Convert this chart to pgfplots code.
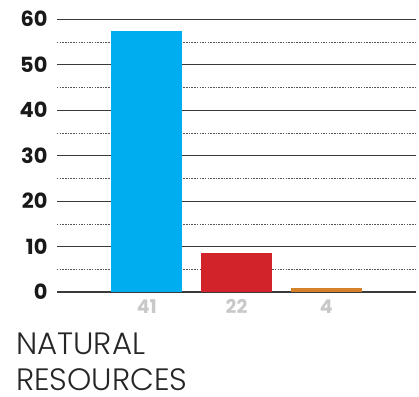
\documentclass[border=0pt]{standalone}
\usepackage{fontspec}
\setmainfont{Poppins}[BoldFont={Poppins Bold}]
\newfontfamily\lightfont{Poppins Light}
\usepackage{pgfplots}
\pgfplotsset{compat=1.18}
\definecolor{barblue}{HTML}{00AEEF}
\definecolor{barred}{HTML}{D2232A}
\definecolor{barorange}{HTML}{D4812A}
\definecolor{gridsolid}{HTML}{3A3A3A}
\definecolor{griddot}{HTML}{555555}
\definecolor{ticklight}{HTML}{C8C8C8}
\begin{document}
\begin{tikzpicture}[x=1bp,y=1bp]
\path[use as bounding box] (0,0) rectangle (419,397);
\begin{axis}[
  at={(57bp,105bp)}, anchor=south west,
  scale only axis, width=359bp, height=273bp,
  xmin=-1, xmax=3, ymin=0, ymax=60,
  axis x line=bottom, axis y line=left,
  y axis line style={draw=none},
  x axis line style={-, line width=1.2pt, color=gridsolid},
  xtick={0,1,2}, xticklabels={41,22,4},
  ytick={0,10,...,60},
  minor ytick={5,15,...,55},
  ymajorgrids, yminorgrids,
  major grid style={line width=0.6pt, color=gridsolid},
  minor grid style={line width=0.5pt, color=griddot, dash pattern=on 1.5pt off 1.2pt},
  major tick length=0pt, minor tick length=0pt,
  /pgf/number format/assume math mode=true,
  yticklabel style={font=\fontsize{21}{21}\selectfont\bfseries, text=black!90, anchor=east, xshift=-6bp},
  xticklabel style={font=\fontsize{19}{19}\selectfont\bfseries, text=ticklight, yshift=-4bp},
  clip=false,
]
\addplot[ybar, bar width=71bp, fill=barblue, draw=none] coordinates {(0,57.4)};
\addplot[ybar, bar width=71bp, fill=barred, draw=none] coordinates {(1,8.6)};
\addplot[ybar, bar width=71bp, fill=barorange, draw=none] coordinates {(2,0.9)};
\end{axis}
\node[anchor=base west, inner sep=0pt, text=black!85] at (16,43) {\lightfont\fontsize{31}{31}\selectfont NATURAL};
\node[anchor=base west, inner sep=0pt, text=black!85] at (16,7) {\lightfont\fontsize{31}{31}\selectfont RESOURCES};
\end{tikzpicture}
\end{document}
